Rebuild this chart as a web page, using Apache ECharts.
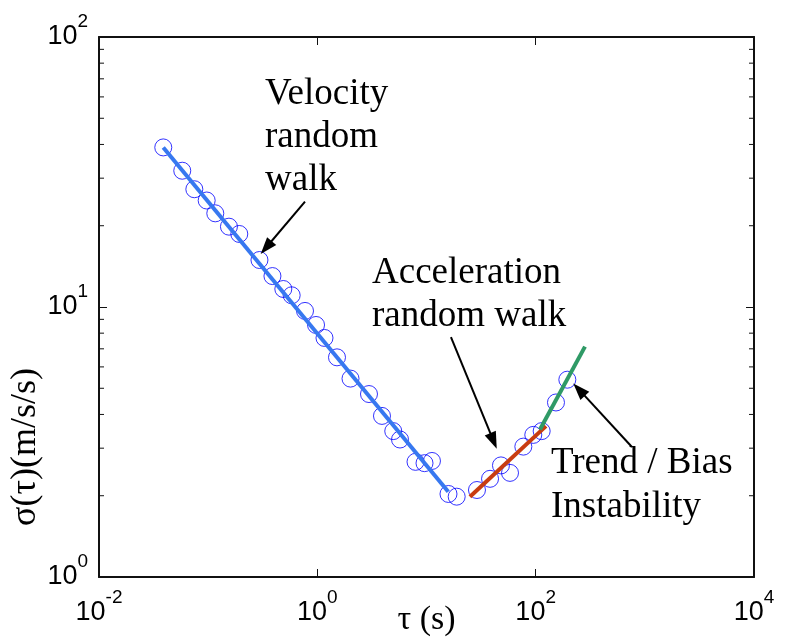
<!DOCTYPE html>
<html>
<head>
<meta charset="utf-8">
<script src="https://cdn.jsdelivr.net/npm/echarts@6/dist/echarts.min.js"></script>
<style>
  html, body { margin: 0; padding: 0; background: #fff; }
  #chart { width: 785px; height: 638px; }
</style>
</head>
<body>
<div id="chart"></div>
<script>
// Allan deviation samples: averaging time tau (s) and sigma(tau) (m/s/s)
const tauValues = [0.0388, 0.0579, 0.0747, 0.0969, 0.1162, 0.155, 0.1928, 0.295, 0.388, 0.488,
  0.582, 0.771, 0.973, 1.163, 1.514, 2.013, 2.973, 3.91, 4.96, 5.72,
  7.93, 9.59, 11.22, 15.9, 18.9, 29.0, 38.2, 48.1, 58.2, 77.1,
  95.1, 113.5, 153.5, 195];
const sigmaValues = [39.0, 31.97, 27.3, 24.8, 22.23, 19.84, 18.64, 14.93, 13.02, 11.66,
  11.05, 9.67, 8.58, 7.68, 6.51, 5.43, 4.76, 3.95, 3.47, 3.23,
  2.67, 2.64, 2.69, 2.03, 1.984, 2.10, 2.31, 2.59, 2.43, 3.04,
  3.36, 3.47, 4.43, 5.38];

// Fitted noise segments (end points)
const velocityFitTau = [0.0388, 15.83];
const velocityFitSigma = [39.0, 2.07];
const accelFitTau = [25.0, 124.3];
const accelFitSigma = [1.984, 3.62];
const trendFitTau = [109.5, 283];
const trendFitSigma = [3.52, 7.13];

// Annotation arrows: [tail tau, tail sigma, head tau, head sigma]
const arrowVelocity = [0.771, 24.55, 0.340, 16.61];
const arrowAccel = [16.75, 7.74, 41.1, 3.19];
const arrowTrend = [762, 3.03, 249.8, 4.94];

// Axis extents and minor tick positions on the sigma axis
const tauRange = [0.01, 10000];
const sigmaRange = [1, 100];
const sigmaMinorTicks = [2, 3, 4, 5, 6, 7, 8, 9, 20, 30, 40, 50, 60, 70, 80, 90];

const pairs = (xs, ys) => xs.map((x, i) => [x, ys[i]]);
const expLabel = v => '{b|10}{s|' + Math.round(Math.log10(v)) + '}';
const labelRich = {
  b: { fontFamily: 'Liberation Sans', fontSize: 27, lineHeight: 27, color: '#000' },
  s: { fontFamily: 'Liberation Sans', fontSize: 19, lineHeight: 19, padding: [0, 0, 30, 0], color: '#000' }
};
const lineStyleAxis = { color: '#111', width: 2 };
const tickStyle = { show: true, inside: true, length: 8, lineStyle: { color: '#111', width: 1 } };

function arrowLine(a) {
  return [
    { coord: [a[0], a[1]], symbol: 'none' },
    { coord: [a[2], a[3]], symbol: 'triangle' }
  ];
}

const chart = echarts.init(document.getElementById('chart'));
chart.setOption({
  animation: false,
  backgroundColor: '#fff',
  grid: { left: 99, top: 37, right: 31, bottom: 61, containLabel: false, outerBoundsMode: 'none' },
  xAxis: [
    {
      type: 'log', logBase: 10, min: tauRange[0], max: tauRange[1], interval: 2,
      position: 'bottom',
      name: 'τ (s)', nameLocation: 'middle', nameGap: 26, nameMoveOverlap: false,
      nameTextStyle: { fontFamily: 'Liberation Serif', fontSize: 34, color: '#000', verticalAlign: 'top' },
      axisLine: { show: true, lineStyle: lineStyleAxis },
      axisTick: tickStyle,
      axisLabel: { show: true, margin: 22, formatter: expLabel, rich: labelRich, showMinLabel: true, showMaxLabel: true },
      splitLine: { show: false }
    },
    {
      type: 'log', logBase: 10, min: tauRange[0], max: tauRange[1], interval: 2,
      position: 'top',
      axisLine: { show: true, lineStyle: lineStyleAxis },
      axisTick: tickStyle,
      axisLabel: { show: false },
      splitLine: { show: false }
    }
  ],
  yAxis: [
    {
      type: 'log', logBase: 10, min: sigmaRange[0], max: sigmaRange[1], interval: 1,
      position: 'left',
      name: 'σ(τ)(m/s/s)', nameLocation: 'middle', nameGap: 55, nameRotate: 90, nameMoveOverlap: false,
      nameTextStyle: { fontFamily: 'Liberation Serif', fontSize: 36, color: '#000', padding: [0, 280, 0, 0] },
      axisLine: { show: true, lineStyle: lineStyleAxis },
      axisTick: tickStyle,
      axisLabel: { show: true, margin: 11, formatter: expLabel, rich: labelRich, showMinLabel: true, showMaxLabel: true },
      splitLine: { show: false }
    },
    {
      type: 'log', logBase: 10, min: sigmaRange[0], max: sigmaRange[1], interval: 1,
      position: 'right',
      axisLine: { show: true, lineStyle: lineStyleAxis },
      axisTick: tickStyle,
      axisLabel: { show: false },
      splitLine: { show: false }
    }
  ],
  series: [
    {
      // minor ticks of the logarithmic sigma axis, on both vertical box edges
      type: 'custom',
      silent: true,
      clip: false,
      data: sigmaMinorTicks.map(v => [tauRange[0], v]),
      renderItem: function (params, api) {
        const p = api.coord([api.value(0), api.value(1)]);
        const cs = params.coordSys;
        const len = 5;
        return {
          type: 'group',
          children: [
            { type: 'line', shape: { x1: cs.x, y1: p[1], x2: cs.x + len, y2: p[1] }, style: { stroke: '#111', lineWidth: 1 } },
            { type: 'line', shape: { x1: cs.x + cs.width - len, y1: p[1], x2: cs.x + cs.width, y2: p[1] }, style: { stroke: '#111', lineWidth: 1 } }
          ]
        };
      }
    },
    {
      name: 'samples',
      type: 'scatter',
      symbol: 'circle',
      symbolSize: 17,
      itemStyle: { color: 'rgba(0,0,0,0)', borderColor: '#0000ff', borderWidth: 1 },
      data: pairs(tauValues, sigmaValues),
      silent: true,
      z: 2,
      markLine: {
        silent: true,
        animation: false,
        symbolSize: [12, 17],
        label: { show: false },
        lineStyle: { color: '#000', width: 2, type: 'solid' },
        itemStyle: { color: '#000' },
        emphasis: { disabled: true },
        data: [arrowLine(arrowVelocity), arrowLine(arrowAccel), arrowLine(arrowTrend)]
      }
    },
    {
      name: 'velocity random walk',
      type: 'line',
      data: pairs(velocityFitTau, velocityFitSigma),
      showSymbol: false,
      lineStyle: { color: '#3778f0', width: 4 },
      silent: true,
      z: 3
    },
    {
      name: 'acceleration random walk',
      type: 'line',
      data: pairs(accelFitTau, accelFitSigma),
      showSymbol: false,
      lineStyle: { color: '#c83c10', width: 4 },
      silent: true,
      z: 3
    },
    {
      name: 'trend / bias instability',
      type: 'line',
      data: pairs(trendFitTau, trendFitSigma),
      showSymbol: false,
      lineStyle: { color: '#2f9a66', width: 4 },
      silent: true,
      z: 3
    }
  ],
  graphic: [
    {
      type: 'text', x: 265, y: 73, silent: true,
      style: { text: 'Velocity\nrandom\nwalk', font: '37px "Liberation Serif"', lineHeight: 43, fill: '#000', verticalAlign: 'top' }
    },
    {
      type: 'text', x: 372, y: 252, silent: true,
      style: { text: 'Acceleration\nrandom walk', font: '37px "Liberation Serif"', lineHeight: 43, fill: '#000', verticalAlign: 'top' }
    },
    {
      type: 'text', x: 551, y: 441, silent: true,
      style: { text: 'Trend / Bias\nInstability', font: '37px "Liberation Serif"', lineHeight: 44, fill: '#000', verticalAlign: 'top' }
    }
  ]
});
</script>
</body>
</html>
